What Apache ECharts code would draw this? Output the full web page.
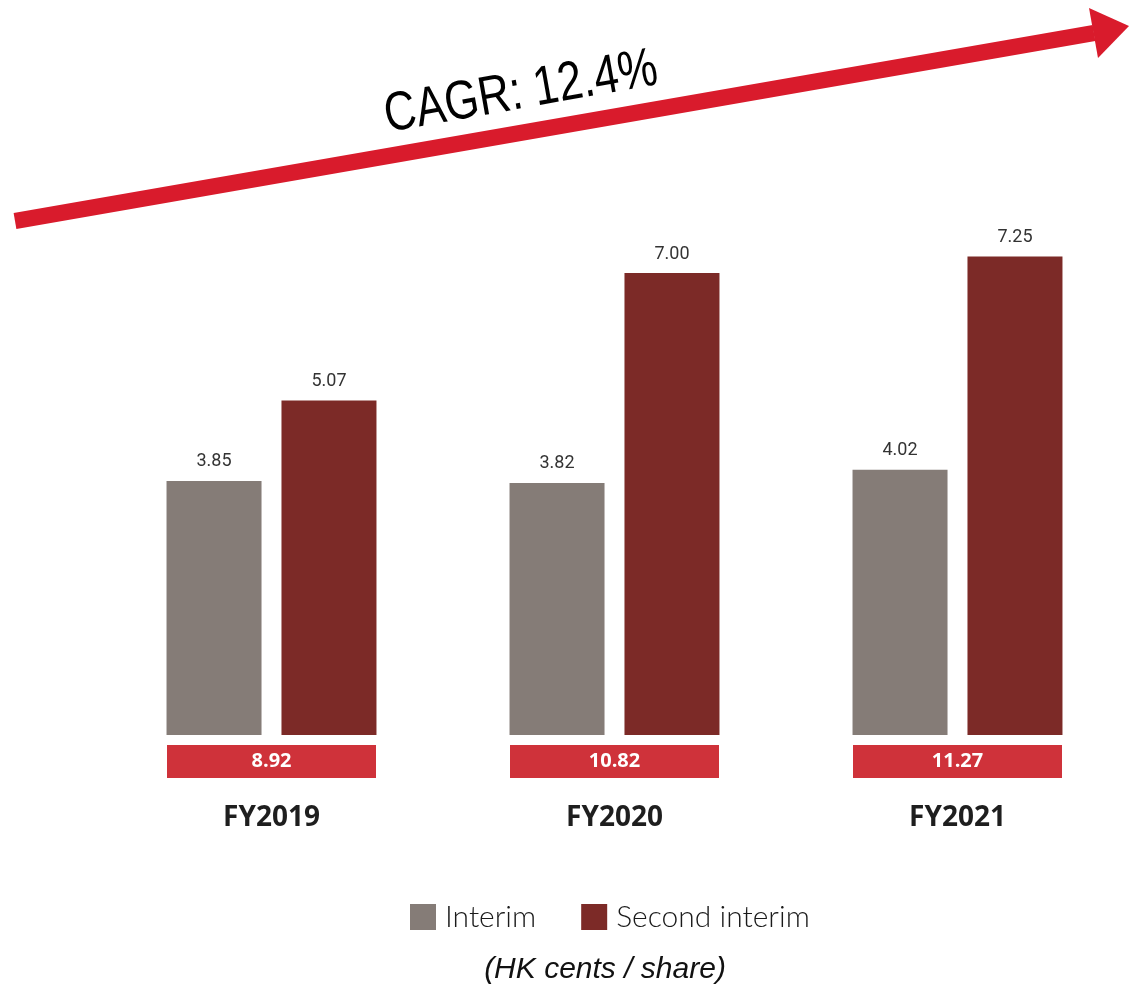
<!DOCTYPE html>
<html>
<head>
<meta charset="utf-8">
<script src="https://cdn.jsdelivr.net/npm/echarts@6/dist/echarts.min.js"></script>
<style>
html,body{margin:0;padding:0;background:#fff;}
#chart{width:1129px;height:995px;}
</style>
</head>
<body>
<div id="chart"></div>
<script>
var categories = ['FY2019', 'FY2020', 'FY2021'];
var interim = [3.85, 3.82, 4.02];
var secondInterim = [5.07, 7.00, 7.25];
var totals = ['8.92', '10.82', '11.27'];
var seriesNames = ['Interim', 'Second interim'];
var cagrText = 'CAGR: 12.4%';
var unitText = '(HK cents / share)';

var chart = echarts.init(document.getElementById('chart'));
var option = {
  backgroundColor: '#ffffff',
  animation: false,
  grid: { left: 100, right: 0, top: 240, bottom: 260 },
  xAxis: {
    type: 'category',
    data: categories,
    axisLine: { show: false },
    axisTick: { show: false },
    axisLabel: {
      margin: 10,
      formatter: function (v, i) { return '{box|' + totals[i] + '}\n{fy|' + v + '}'; },
      rich: {
        box: {
          backgroundColor: '#cf323a', width: 209, height: 33, lineHeight: 33,
          align: 'center', color: '#ffffff', fontSize: 20, fontWeight: 'bold',
          fontFamily: 'Open Sans'
        },
        fy: {
          fontSize: 28, fontWeight: 'bold', color: '#1e1e1e', lineHeight: 80,
          align: 'center', fontFamily: 'Open Sans'
        }
      }
    }
  },
  yAxis: {
    type: 'value', min: 0, max: 7.5, interval: 2.5, show: false,
    splitLine: { show: false }
  },
  legend: {
    left: 405, top: 897,
    icon: 'rect', itemWidth: 26, itemHeight: 26, itemGap: 45,
    textStyle: { fontSize: 30, color: '#1a1a1a', fontFamily: 'Lato', fontWeight: 300, padding: [0, 0, 0, 4] },
    data: seriesNames
  },
  series: [
    {
      name: seriesNames[0], type: 'bar', data: interim,
      barWidth: 95, barGap: '21%',
      itemStyle: { color: '#857c77' },
      label: { show: true, position: 'top', distance: 10, fontSize: 18, color: '#333',
        fontFamily: 'Roboto', formatter: function (p) { return p.value.toFixed(2); } }
    },
    {
      name: seriesNames[1], type: 'bar', data: secondInterim,
      barWidth: 95,
      itemStyle: { color: '#7c2a27' },
      label: { show: true, position: 'top', distance: 10, fontSize: 18, color: '#333',
        fontFamily: 'Roboto', formatter: function (p) { return p.value.toFixed(2); } }
    }
  ],
  graphic: [
    { type: 'line', shape: { x1: 15, y1: 221, x2: 1094, y2: 33 },
      style: { stroke: '#d91b2c', lineWidth: 16, lineCap: 'butt' } },
    { type: 'polygon', shape: { points: [[1089, 8], [1129, 26], [1098, 58]] },
      style: { fill: '#d91b2c' } },
    { type: 'text', x: 521, y: 93, rotation: 0.175, scaleX: 0.8,
      style: { text: cagrText, fontSize: 55, fontFamily: '"Liberation Sans", Arial',
        fill: '#000', textAlign: 'center', textVerticalAlign: 'middle' } },
    { type: 'text', x: 605, y: 970,
      style: { text: unitText, fontSize: 30, fontStyle: 'italic', fontFamily: '"Liberation Sans", Arial',
        fill: '#111', textAlign: 'center', textVerticalAlign: 'middle' } }
  ]
};
chart.setOption(option);
</script>
</body>
</html>
